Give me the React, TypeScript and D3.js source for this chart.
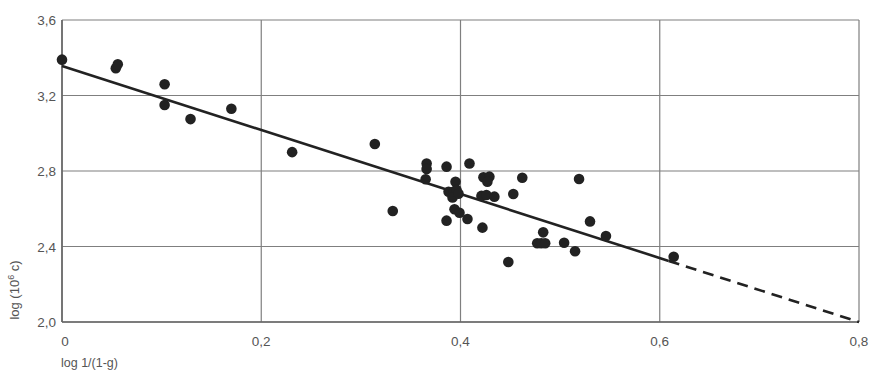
import React from "react";
import * as d3 from "d3";

const xTicks = [0, 0.2, 0.4, 0.6, 0.8];
const yTicks = [2.0, 2.4, 2.8, 3.2, 3.6];

const pointsX = [
  0, 0.054, 0.056, 0.103, 0.103, 0.129, 0.17, 0.231, 0.314, 0.366, 0.366, 0.365, 0.386, 0.409,
  0.423, 0.429, 0.427, 0.462, 0.519, 0.395, 0.388, 0.393, 0.396, 0.392, 0.398, 0.421, 0.426,
  0.434, 0.453, 0.332, 0.394, 0.399, 0.407, 0.386, 0.422, 0.448, 0.483, 0.477, 0.481, 0.485,
  0.504, 0.515, 0.53, 0.546, 0.614,
];
const pointsY = [
  3.39, 3.345, 3.365, 3.26, 3.15, 3.075, 3.13, 2.9, 2.943, 2.84, 2.81, 2.756, 2.823, 2.84,
  2.767, 2.77, 2.743, 2.764, 2.758, 2.743, 2.69, 2.69, 2.7, 2.66, 2.68, 2.668, 2.673, 2.664,
  2.678, 2.588, 2.597, 2.579, 2.546, 2.537, 2.5, 2.318, 2.475, 2.417, 2.417, 2.417, 2.42,
  2.375, 2.533, 2.456, 2.346,
];

const fitIntercept = 3.356;
const fitSlope = -1.695;
const solidEnd = 0.609;
const dashEnd = 0.8;

const fmt = (v: number) => (v === 0 ? "0" : d3.format(".1f")(v).replace(".", ","));

export default function App() {
  const x = d3.scaleLinear().domain([0, 0.8]).range([62, 859]);
  const y = d3.scaleLinear().domain([2.0, 3.6]).range([322, 20]);
  const line = d3
    .line<number>()
    .x((d) => x(d))
    .y((d) => y(fitIntercept + fitSlope * d));
  const font = "'Liberation Sans', Arial, sans-serif";
  const textColor = "#555";
  const gridColor = "#7f7f7f";

  return (
    <svg
      width={874}
      height={373}
      style={{ position: "absolute", left: 0, top: 0, background: "#fff" }}
      fontFamily={font}
    >
      {xTicks.map((t) => (
        <line key={"gx" + t} x1={x(t)} x2={x(t)} y1={y(3.6)} y2={y(2.0)} stroke={gridColor} strokeWidth={1.2} />
      ))}
      {yTicks.map((t) => (
        <line key={"gy" + t} x1={x(0)} x2={x(0.8)} y1={y(t)} y2={y(t)} stroke={gridColor} strokeWidth={1.2} />
      ))}
      <line x1={x(0)} x2={x(0.8)} y1={y(2.0)} y2={y(2.0)} stroke="#666" strokeWidth={1.6} />
      <line x1={x(0)} x2={x(0)} y1={y(3.6)} y2={y(2.0)} stroke="#666" strokeWidth={1.6} />

      <path d={line([0, solidEnd]) || ""} fill="none" stroke="#222" strokeWidth={2.6} />
      <path d={line([solidEnd, dashEnd]) || ""} fill="none" stroke="#222" strokeWidth={2.6} strokeDasharray="11,7" />

      {pointsX.map((px, i) => (
        <circle key={i} cx={x(px)} cy={y(pointsY[i])} r={5.3} fill="#222" />
      ))}

      {yTicks.map((t) => (
        <text key={"ty" + t} x={56} y={y(t) + 5} textAnchor="end" fontSize={13.5} fill={textColor}>
          {fmt(t)}
        </text>
      ))}
      {xTicks.map((t) => (
        <text key={"tx" + t} x={x(t) + (t === 0 ? 3 : 0)} y={346} textAnchor="middle" fontSize={13.5} fill={textColor}>
          {fmt(t)}
        </text>
      ))}
      <text x={61} y={367} fontSize={12.5} fill={textColor}>
        log 1/(1-g)
      </text>
      <text transform="translate(19,290) rotate(-90)" textAnchor="middle" fontSize={13} fill={textColor}>
        log (10
        <tspan fontSize={9} dy={-5}>6</tspan>
        <tspan dy={5}> c)</tspan>
      </text>
    </svg>
  );
}
